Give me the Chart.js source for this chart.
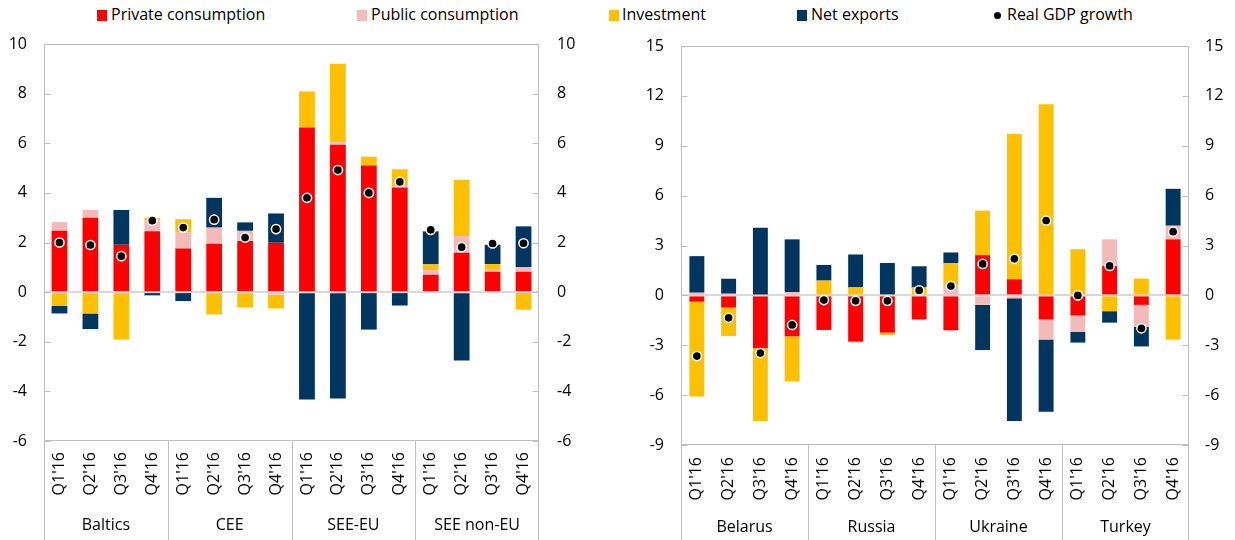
<!DOCTYPE html>
<html><head><meta charset="utf-8">
<script src="https://cdn.jsdelivr.net/npm/chart.js@4.4.1/dist/chart.umd.min.js"></script>
<style>
body{margin:0;width:1235px;height:540px;background:#fff;overflow:hidden;font-family:'Open Sans',sans-serif;position:relative;}
canvas{position:absolute;top:0;}
#c1{left:0;}
#c2{left:615px;}
.lt{position:absolute;top:4px;font-size:16px;line-height:20px;color:#000;white-space:nowrap;}
.sq{position:absolute;top:10px;width:10px;height:11px;}
.dot{position:absolute;top:12px;width:7px;height:7px;border-radius:50%;background:#000;}
</style></head>
<body>
<div class="sq" style="left:97px;background:#FF0000"></div><div class="lt" style="left:111px">Private consumption</div>
<div class="sq" style="left:357px;background:#F4B9B9"></div><div class="lt" style="left:371px">Public consumption</div>
<div class="sq" style="left:609px;background:#FFC000"></div><div class="lt" style="left:622px">Investment</div>
<div class="sq" style="left:797px;background:#003560"></div><div class="lt" style="left:811px">Net exports</div>
<div class="dot" style="left:994px"></div><div class="lt" style="left:1007px">Real GDP growth</div>
<canvas id="c1" width="615" height="540"></canvas>
<canvas id="c2" width="620" height="540"></canvas>
<script>
// ---- data ----
const categories = ["Q1'16","Q2'16","Q3'16","Q4'16","Q1'16","Q2'16","Q3'16","Q4'16","Q1'16","Q2'16","Q3'16","Q4'16","Q1'16","Q2'16","Q3'16","Q4'16"];
const leftGroups = ["Baltics","CEE","SEE-EU","SEE non-EU"];
const rightGroups = ["Belarus","Russia","Ukraine","Turkey"];

const leftPrivate    = [2.47, 3.00, 1.91, 2.45, 1.76, 1.95, 2.06, 1.99, 6.63, 5.94, 5.10, 4.22, 0.70, 1.59, 0.82, 0.82];
const leftPublic     = [0.35, 0.31, 0.00, 0.45, 0.64, 0.65, 0.41, -0.10, 0.00, 0.10, 0.00, 0.06, 0.19, 0.67, 0.11, 0.18];
const leftInvestment = [-0.56, -0.86, -1.91, 0.10, 0.54, -0.90, -0.62, -0.56, 1.46, 3.16, 0.36, 0.67, 0.23, 2.26, 0.20, -0.71];
const leftNetExports = [-0.30, -0.63, 1.40, -0.13, -0.36, 1.20, 0.34, 1.18, -4.33, -4.29, -1.51, -0.54, 1.33, -2.76, 0.78, 1.65];
const leftGDP        = [2.00, 1.90, 1.45, 2.88, 2.60, 2.92, 2.20, 2.54, 3.80, 4.92, 4.00, 4.44, 2.51, 1.81, 1.96, 1.97];

const rightPrivate    = [-0.38, -0.73, -3.17, -2.46, -2.08, -2.78, -2.24, -1.45, -2.10, 2.42, 0.97, -1.45, -1.21, 1.77, -0.57, 3.37];
const rightPublic     = [0.16, 0.10, 0.00, 0.20, 0.00, -0.05, 0.00, 0.00, 0.58, -0.57, -0.18, -1.21, -0.99, 1.60, -1.33, 0.82];
const rightInvestment = [-5.71, -1.71, -4.39, -2.72, 0.89, 0.48, -0.14, 0.48, 1.35, 2.68, 8.73, 11.49, 2.78, -0.95, 1.01, -2.66];
const rightNetExports = [2.20, 0.90, 4.07, 3.17, 0.94, 1.98, 1.95, 1.27, 0.65, -2.72, -7.38, -4.34, -0.64, -0.69, -1.17, 2.22];
const rightGDP        = [-3.65, -1.35, -3.47, -1.78, -0.28, -0.33, -0.33, 0.30, 0.56, 1.89, 2.20, 4.50, 0.00, 1.77, -1.98, 3.83];

const seriesNames = ["Private consumption","Public consumption","Investment","Net exports","Real GDP growth"];
const colors = ["#FF0000","#F4B9B9","#FFC000","#003560"];

const FONT = "'Open Sans', sans-serif";
const FONT_SIZE = 16;
const AXIS_COLOR = "#bfbfbf";

const framePlugin = {
  id: 'frame',
  afterDraw(chart, args, opts) {
    const ctx = chart.ctx, a = chart.chartArea;
    const x = chart.scales.x, y = chart.scales.y;
    const H = chart.height;
    ctx.save();
    ctx.strokeStyle = AXIS_COLOR;
    ctx.lineWidth = 1;
    const L = Math.round(a.left) + 0.5, R = Math.round(a.right) - 0.5;
    const T = Math.round(a.top) + 0.5, B = Math.round(a.bottom) - 0.5;
    ctx.beginPath();
    ctx.moveTo(L, T); ctx.lineTo(R, T); ctx.lineTo(R, H);
    ctx.moveTo(L, T); ctx.lineTo(L, H);
    ctx.moveTo(L, B); ctx.lineTo(R, B);
    // inward ticks
    y.ticks.forEach(t => {
      const py = Math.round(y.getPixelForValue(t.value)) + 0.5;
      ctx.moveTo(L, py); ctx.lineTo(L + 6, py);
      ctx.moveTo(R - 6, py); ctx.lineTo(R, py);
    });
    // group separators
    const groups = opts.groups;
    for (let g = 1; g < groups.length; g++) {
      const px = Math.round((x.getPixelForValue(g * 4 - 1) + x.getPixelForValue(g * 4)) / 2) + 0.5;
      ctx.moveTo(px, B); ctx.lineTo(px, H);
    }
    ctx.stroke();
    // group labels
    ctx.fillStyle = '#000';
    ctx.font = FONT_SIZE + "px " + FONT;
    ctx.textAlign = 'center';
    ctx.textBaseline = 'middle';
    groups.forEach((name, g) => {
      const cx = (x.getPixelForValue(g * 4) + x.getPixelForValue(g * 4 + 3)) / 2;
      ctx.fillText(name, cx, opts.labelY);
    });
    ctx.restore();
  }
};

function makeChart(id, d, cfg) {
  const bars = [d.priv, d.pub, d.inv, d.net].map((vals, i) => ({
    type: 'bar',
    label: seriesNames[i],
    data: vals,
    backgroundColor: colors[i],
    borderWidth: 0,
    stack: 's',
    order: 1,
    categoryPercentage: 1,
    barPercentage: cfg.barPct
  }));
  const gdp = {
    type: 'line',
    label: seriesNames[4],
    data: d.gdp,
    showLine: false,
    stack: 'gdp',
    order: 0,
    pointRadius: 4.6,
    pointBackgroundColor: '#000',
    pointBorderColor: '#fff',
    pointBorderWidth: 1.5
  };
  const tickFont = { family: FONT, size: FONT_SIZE };
  return new Chart(document.getElementById(id), {
    data: { labels: categories, datasets: [gdp, ...bars] },
    plugins: [framePlugin],
    options: {
      responsive: false,
      animation: false,
      devicePixelRatio: 1,
      layout: { padding: { top: cfg.top, left: 0, right: 0, bottom: 0 } },
      plugins: {
        legend: { display: false },
        tooltip: { enabled: false },
        frame: { groups: cfg.groups, labelY: cfg.labelY }
      },
      scales: {
        x: {
          type: 'category',
          stacked: true,
          offset: true,
          grid: { display: false, drawTicks: false },
          border: { display: false },
          ticks: { font: tickFont, color: '#000', minRotation: 90, maxRotation: 90, padding: cfg.xPad, autoSkip: false },
          afterFit(s) { s.height = cfg.xHeight; }
        },
        y: {
          type: 'linear',
          position: 'left',
          stacked: true,
          min: cfg.min, max: cfg.max,
          ticks: { stepSize: cfg.step, font: tickFont, color: '#000', padding: cfg.lPad },
          grid: {
            drawTicks: false,
            color: c => (c.tick && c.tick.value === 0) ? '#d9d9d9' : 'rgba(0,0,0,0)',
            lineWidth: c => (c.tick && c.tick.value === 0) ? 2 : 0
          },
          border: { display: false },
          afterFit(s) { s.width = cfg.lWidth; }
        },
        y2: {
          type: 'linear',
          position: 'right',
          min: cfg.min, max: cfg.max,
          ticks: { stepSize: cfg.step, font: tickFont, color: '#000', padding: cfg.rPad },
          grid: { display: false, drawTicks: false },
          border: { display: false },
          afterFit(s) { s.width = cfg.rWidth; }
        }
      }
    }
  });
}

makeChart('c1',
  { priv: leftPrivate, pub: leftPublic, inv: leftInvestment, net: leftNetExports, gdp: leftGDP },
  { groups: leftGroups, min: -6, max: 10, step: 2, top: 44, xHeight: 99, lWidth: 44, rWidth: 76,
    lPad: 17, rPad: 18, xPad: 11, barPct: 0.51, labelY: 525 });

makeChart('c2',
  { priv: rightPrivate, pub: rightPublic, inv: rightInvestment, net: rightNetExports, gdp: rightGDP },
  { groups: rightGroups, min: -9, max: 15, step: 3, top: 46, xHeight: 95, lWidth: 66, rWidth: 46,
    lPad: 17, rPad: 16, xPad: 12, barPct: 0.47, labelY: 527 });
</script>
</body></html>
